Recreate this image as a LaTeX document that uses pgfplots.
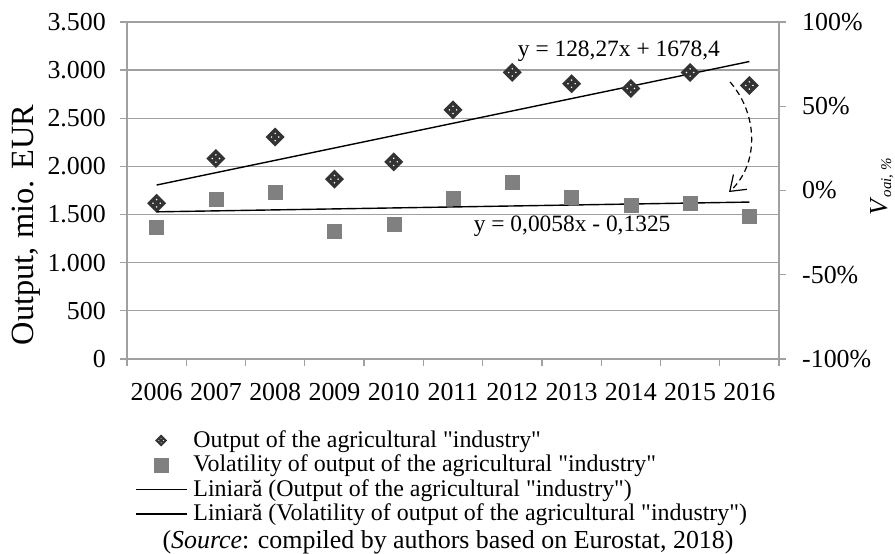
\documentclass[border=0pt]{standalone}
\usepackage{fontspec}
\setmainfont{Liberation Serif}[Ligatures=TeXOff]
\usepackage{pgfplots}
\pgfplotsset{compat=1.18}
\usetikzlibrary{arrows.meta}

\definecolor{gridgray}{HTML}{A0A0A0}
\definecolor{diamondgray}{HTML}{333333}
\definecolor{squaregray}{HTML}{808080}

\pgfdeclareplotmark{dotdiamond}{%
  \pgfpathmoveto{\pgfqpoint{0pt}{\pgfplotmarksize}}%
  \pgfpathlineto{\pgfqpoint{\pgfplotmarksize}{0pt}}%
  \pgfpathlineto{\pgfqpoint{0pt}{-\pgfplotmarksize}}%
  \pgfpathlineto{\pgfqpoint{-\pgfplotmarksize}{0pt}}%
  \pgfpathclose
  \pgfusepathqfill
  \pgfscope
  \pgfsetfillcolor{white}%
  \pgfpathcircle{\pgfqpoint{0.38\pgfplotmarksize}{0pt}}{0.09\pgfplotmarksize}%
  \pgfpathcircle{\pgfqpoint{-0.38\pgfplotmarksize}{0pt}}{0.09\pgfplotmarksize}%
  \pgfpathcircle{\pgfqpoint{0pt}{0.38\pgfplotmarksize}}{0.09\pgfplotmarksize}%
  \pgfpathcircle{\pgfqpoint{0pt}{-0.38\pgfplotmarksize}}{0.09\pgfplotmarksize}%
  \pgfusepathqfill
  \endpgfscope
}

\pgfplotstableread{
x  out
0  1618
1  2082
2  2305
3  1868
4  2048
5  2588
6  2976
7  2859
8  2810
9  2976
10 2841
}\outputdata

\pgfplotstableread{
x  vol
0  -21.5
1  -4.9
2  -0.9
3  -23.9
4  -20.3
5  -4.3
6  5.0
7  -3.9
8  -9.0
9  -7.8
10 -15.0
}\voldata

\pgfplotsset{
  legdiamond/.style={legend image code/.code={%
      \path (0bp,-1bp) (51bp,1bp);
      \path[fill=diamondgray] plot[only marks, mark=dotdiamond, mark size=6bp] coordinates {(25.5bp,0bp)};}},
  legsquare/.style={legend image code/.code={%
      \path (0bp,-1bp) (51bp,1bp);
      \path[fill=squaregray, draw=squaregray, line width=0pt] plot[only marks, mark=square*, mark size=7bp] coordinates {(25.5bp,0bp)};}},
  legline/.style={legend image code/.code={%
      \draw[black, line width=1.4bp] (0bp,0bp) -- (51bp,0bp);}},
  common/.style={
    at={(127bp,195bp)}, anchor=south west,
    scale only axis, width=652bp, height=337bp,
    xmin=-0.5, xmax=10.5,
    tick align=outside,
    major tick length=7bp, minor tick length=7bp,
    axis line style={gridgray, line width=1.3bp},
    ticklabel style={font=\fontsize{26}{30}\selectfont},
    /pgf/number format/assume math mode=true,
  },
}

\begin{document}
\begin{tikzpicture}[x=1bp,y=1bp]
\useasboundingbox (0,0) rectangle (895,554);

\begin{axis}[common,
  ymin=0, ymax=3500,
  axis x line*=bottom, axis y line*=left,
  xtick={0,...,10},
  xticklabels={2006,2007,2008,2009,2010,2011,2012,2013,2014,2015,2016},
  minor xtick={-0.5,0.5,...,10.5},
  major x tick style={draw=none},
  minor x tick style={gridgray, line width=1.3bp},
  ytick={0,500,...,3500},
  y tick style={gridgray, line width=1.3bp},
  ymajorgrids,
  grid style={gridgray, line width=1.3bp},
  /pgf/number format/1000 sep={.},
  yticklabel style={anchor=east, inner sep=0pt, xshift=-14bp},
  xticklabel style={anchor=north, inner sep=0pt, yshift=-17bp},
]
\addplot[only marks, mark=dotdiamond, mark size=9.5bp, color=diamondgray, forget plot] table[x=x, y=out] {\outputdata};
\addplot[black, line width=1.4bp, forget plot] coordinates {(0,1806.67) (10,3089.37)};
\node[anchor=base, font=\fontsize{23.5}{26}\selectfont] at (axis cs:7.80,3140) {y = 128,27x + 1678,4};
\node[anchor=base, font=\fontsize{23.5}{26}\selectfont] at (axis cs:7.01,1322) {y = 0,0058x - 0,1325};
\draw[black, line width=1.2bp, dash pattern=on 6bp off 4bp, -{Straight Barb[length=14bp, width=20bp]}]
  (axis cs:9.674,2877) .. controls (axis cs:10.16,2534) and (axis cs:10.16,2015) .. (axis cs:9.657,1734);
\end{axis}

\begin{axis}[common,
  ymin=-100, ymax=100,
  axis x line=none, axis y line*=right,
  ytick={-100,-50,0,50,100},
  yticklabels={-100\%,-50\%,0\%,50\%,100\%},
  y tick style={gridgray, line width=1.3bp},
  yticklabel style={anchor=west, inner sep=0pt, xshift=16bp},
  legend style={at={(axis description cs:0.01227,-0.2056)}, anchor=north west,
    draw=none, fill=none, inner sep=0pt, outer sep=0pt,
    font=\fontsize{24}{28}\selectfont,
    nodes={inner sep=0pt, text height=19bp, text depth=5.5bp},
    column sep=6bp, row sep=0bp},
  legend cell align=left,
]
\addplot[only marks, mark=square*, mark size=7bp, color=squaregray, forget plot] table[x=x, y=vol] {\voldata};
\addplot[black, line width=1.4bp, forget plot] coordinates {(0,-12.67) (10,-6.87)};
\addlegendimage{legdiamond}
\addlegendentry{Output of the agricultural "industry"}
\addlegendimage{legsquare}
\addlegendentry{Volatility of output of the agricultural "industry"}
\addlegendimage{legline}
\addlegendentry{Liniară (Output of the agricultural "industry")}
\addlegendimage{legline}
\addlegendentry{Liniară (Volatility of output of the agricultural "industry")}
\end{axis}

\node[rotate=90, anchor=base, font=\fontsize{32.5}{36}\selectfont] at (33bp,329bp) {Output, mio. EUR};
\node[rotate=90, anchor=base] at (887bp,367bp) {{\fontsize{26}{28}\selectfont\textit{V}}\raisebox{-4bp}{\fontsize{15}{17}\selectfont\textit{oai, \%}}};
\node[anchor=base west, font=\fontsize{26}{30}\selectfont] at (159bp,5.7bp) {(\textit{Source}: compiled by authors based on Eurostat, 2018)};
\end{tikzpicture}
\end{document}
